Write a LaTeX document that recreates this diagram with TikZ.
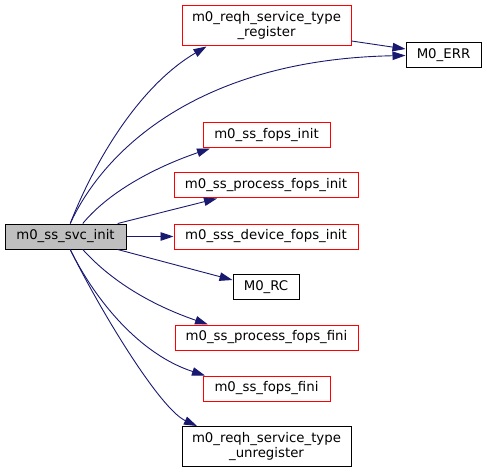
\documentclass[tikz,border=0pt]{standalone}
\usepackage{fontspec}
\setmainfont{DejaVu Sans}
\usepackage{tikz}
\usetikzlibrary{arrows.meta}
\definecolor{linkazul}{RGB}{25,25,112}
\definecolor{borderojo}{RGB}{255,0,0}
\definecolor{fillgris}{RGB}{191,191,191}

\begin{document}
\begin{tikzpicture}[x=1pt, y=-1pt, >={Triangle[length=13pt,width=8.5pt]},
    fn/.style={draw=black, line width=1pt, fill=white, inner sep=0pt, align=center,
        minimum height=25pt, font=\fontsize{13.3}{15}\selectfont},
    fnred/.style={fn, draw=borderojo},
    call/.style={->, draw=linkazul, fill=none, line width=0.9pt}]
    \useasboundingbox (0,0) rectangle (487,473);
    % caller
    \node[fn, fill=fillgris, minimum width=121pt] (init) at (65.5,236.5) {m0\_ss\_svc\_init};
    % callees
    \node[fnred, minimum width=169pt, minimum height=40pt] (register) at (266.5,26) {m0\_reqh\_service\_type\\\_register};
    \node[fn, minimum width=75pt] (err) at (443.5,55.5) {M0\_ERR};
    \node[fnred, minimum width=127pt] (fopsinit) at (266.5,135.5) {m0\_ss\_fops\_init};
    \node[fnred, minimum width=184pt] (procinit) at (266,185.5) {m0\_ss\_process\_fops\_init};
    \node[fnred, minimum width=184pt] (devinit) at (266,236.5) {m0\_sss\_device\_fops\_init};
    \node[fn, minimum width=66pt] (rc) at (266,287) {M0\_RC};
    \node[fnred, minimum width=183pt] (procfini) at (266.5,337.5) {m0\_ss\_process\_fops\_fini};
    \node[fnred, minimum width=127pt] (fopsfini) at (266.5,388.5) {m0\_ss\_fops\_fini};
    \node[fn, minimum width=169pt, minimum height=40pt] (unreg) at (266.5,446.5) {m0\_reqh\_service\_type\\\_unregister};
    % calls
    \draw[call] (init.70) .. controls +(25,-64) and +(-66.5,39) .. ([xshift=-60pt]register.south);
    \draw[call] (init.70) .. controls +(34,-74) and +(-206,4) .. (err.west);
    \draw[call] ([yshift=-15pt]register.east) -- ([yshift=6.5pt]err.west);
    \draw[call] (init.37) .. controls +(28,-34) and +(-50,17) .. ([xshift=-56.5pt]fopsinit.south);
    \draw[call] (init.14) -- ([xshift=-49pt]procinit.south);
    \draw[call] (init.east) -- (devinit.west);
    \draw[call] (init.-14) -- ([yshift=7pt]rc.west);
    \draw[call] (init.-37) .. controls +(28,31) and +(-58,-20) .. ([xshift=-58.5pt]procfini.north);
    \draw[call] (init.-70) .. controls +(25,51) and +(-65,-21) .. ([xshift=-61.5pt]fopsfini.north);
    \draw[call] (init.-70) .. controls +(30,61) and +(-37,-17) .. ([xshift=-69.5pt]unreg.north);
\end{tikzpicture}
\end{document}
